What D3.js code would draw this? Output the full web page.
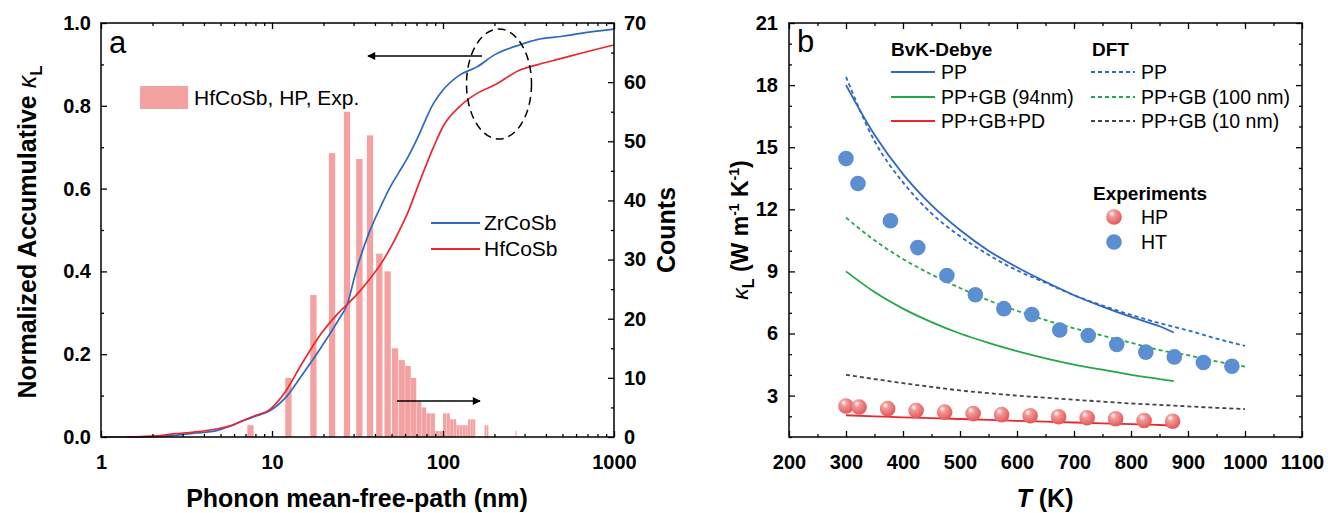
<!doctype html>
<html>
<head>
<meta charset="utf-8">
<title>Accumulative kappa and lattice thermal conductivity</title>
<script src="https://cdnjs.cloudflare.com/ajax/libs/d3/7.8.5/d3.min.js"></script>
<style>
  body { margin: 0; background: #fff; }
  svg { font-family: Arial, "Liberation Sans", sans-serif; }
  .tick line { stroke: #000; stroke-width: 1.3; }
  .domain { display: none; }
</style>
</head>
<body>
<div id="chart"></div>
<script>
// ---- panel a data ----
const mfp = [1, 1.4, 2, 2.7, 3.5, 4.8, 6, 6.8, 8, 9.6, 12, 15, 19.4, 24.5, 27.5, 31, 36.7, 43.6, 49, 55, 62, 70, 88, 100, 125, 158, 200, 280, 355, 500, 640, 1000];
const accZrCoSb = [0, 0, 0.001, 0.004, 0.009, 0.016, 0.03, 0.04, 0.05, 0.062, 0.095, 0.15, 0.217, 0.283, 0.32, 0.40, 0.49, 0.56, 0.603, 0.638, 0.674, 0.717, 0.806, 0.838, 0.874, 0.894, 0.923, 0.947, 0.96, 0.968, 0.975, 0.985];
const accHfCoSb = [null, 0, 0.002, 0.008, 0.012, 0.02, 0.03, 0.04, 0.052, 0.065, 0.11, 0.178, 0.25, 0.30, 0.32, 0.342, 0.378, 0.42, 0.455, 0.495, 0.54, 0.597, 0.70, 0.75, 0.798, 0.83, 0.85, 0.886, 0.899, 0.915, 0.927, 0.947];

const binCenters = [7.5, 12.5, 17.5, 22.5, 27.5, 32.5, 37.5, 42.5, 47.5, 52.5, 57.5, 62.5, 67.5, 72.5, 77.5, 82.5, 87.5, 92.5, 97.5, 102.5, 107.5, 112.5, 117.5, 122.5, 127.5, 132.5, 137.5, 142.5, 147.5, 152.5, 177.5, 182.5, 267.5];
const binCounts  = [2, 10, 24, 48, 55, 47, 51, 31, 28, 15, 13, 12, 10, 6, 5, 4, 4, 1, 1, 4, 4, 3, 3, 2, 2, 2, 2, 3, 3, 3, 2, 2, 1];

const xTicksA = [1, 10, 100, 1000];
const yTicksA = [0, 0.2, 0.4, 0.6, 0.8, 1.0];
const countTicks = [0, 10, 20, 30, 40, 50, 60, 70];

// ---- panel b data ----
const tBvK = [300, 350, 400, 450, 500, 550, 600, 650, 700, 750, 800, 850, 875];
const bvkPP     = [18.0, 15.6, 13.7, 12.2, 11.0, 10.0, 9.2, 8.5, 7.85, 7.3, 6.8, 6.35, 6.05];
const bvkGB94   = [9.0, 8.0, 7.2, 6.55, 6.0, 5.55, 5.15, 4.8, 4.5, 4.25, 4.0, 3.8, 3.7];
const bvkGBPD   = [2.05, 2.0, 1.95, 1.91, 1.87, 1.83, 1.78, 1.74, 1.7, 1.66, 1.62, 1.58, 1.55];

const tDFT = [300, 350, 400, 450, 500, 550, 600, 650, 700, 750, 800, 850, 900, 950, 1000];
const dftPP     = [18.4, 15.3, 13.3, 11.8, 10.7, 9.8, 9.05, 8.45, 7.85, 7.35, 6.9, 6.5, 6.15, 5.75, 5.4];
const dftGB100  = [11.6, 10.5, 9.6, 8.85, 8.2, 7.6, 7.1, 6.65, 6.25, 5.9, 5.55, 5.2, 4.95, 4.65, 4.4];
const dftGB10   = [4.0, 3.8, 3.6, 3.42, 3.25, 3.12, 3.0, 2.9, 2.8, 2.71, 2.62, 2.55, 2.48, 2.41, 2.35];

const hpT = [300, 323, 373, 423, 473, 523, 573, 623, 673, 723, 773, 823, 873];
const hpK = [2.5, 2.45, 2.37, 2.28, 2.2, 2.13, 2.08, 2.03, 1.98, 1.93, 1.88, 1.8, 1.76];
const htT = [300, 321, 378, 426, 477, 527, 577, 626, 675, 725, 775, 826, 876, 927, 977];
const htK = [14.45, 13.25, 11.45, 10.15, 8.8, 7.87, 7.2, 6.92, 6.17, 5.9, 5.47, 5.1, 4.87, 4.6, 4.42];

const xTicksB = [200, 300, 400, 500, 600, 700, 800, 900, 1000, 1100];
const yTicksB = [3, 6, 9, 12, 15, 18, 21];

const BLUE = '#2d68c2', RED = '#e8282e', GREEN = '#25a64a', GREY = '#444444';
const FONT = 'Arial, "Liberation Sans", sans-serif';

const svg = d3.select('#chart').append('svg')
  .attr('width', 1328).attr('height', 513);

const defs = svg.append('defs');
const grad = defs.append('radialGradient').attr('id', 'sphere')
  .attr('cx', '40%').attr('cy', '35%').attr('r', '65%').attr('fx', '35%').attr('fy', '28%');
grad.append('stop').attr('offset', '0%').attr('stop-color', '#ffffff');
grad.append('stop').attr('offset', '30%').attr('stop-color', '#f59a9a');
grad.append('stop').attr('offset', '100%').attr('stop-color', '#e2585a');

defs.append('marker').attr('id', 'arr')
  .attr('viewBox', '0 0 10 10').attr('refX', 9).attr('refY', 5)
  .attr('markerWidth', 13).attr('markerHeight', 8).attr('markerUnits', 'userSpaceOnUse')
  .attr('orient', 'auto')
  .append('path').attr('d', 'M0,0 L10,5 L0,10 z').attr('fill', '#000');

// draw axis helper, with Origin-like bold labels
function axis(gen, tx, ty) {
  const g = svg.append('g').attr('transform', `translate(${tx},${ty})`).call(gen);
  g.attr('font-family', FONT);
  g.selectAll('text').attr('font-size', 20).attr('font-weight', 'bold').attr('fill', '#000');
  return g;
}

// ================= Panel a =================
const xA = d3.scaleLog().domain([1, 1000]).range([101, 614]);
const yA = d3.scaleLinear().domain([0, 1]).range([437, 23]);
const cA = d3.scaleLinear().domain([0, 70]).range([437, 23]);

// histogram bars
const barW = (d) => Math.min(xA(d + 2.5) - xA(d - 2.5), 6.6);
svg.append('g').selectAll('rect').data(binCenters).join('rect')
  .attr('x', (d) => xA(d) - barW(d) / 2)
  .attr('width', (d) => barW(d) - 0.3)
  .attr('y', (d, i) => cA(binCounts[i]))
  .attr('height', (d, i) => cA(0) - cA(binCounts[i]))
  .attr('fill', '#f4a1a1');

const lineA = (vals) => d3.line()
  .defined((d, i) => vals[i] !== null)
  .x((d) => xA(d))
  .y((d, i) => yA(vals[i]))
  .curve(d3.curveMonotoneX)(mfp);

svg.append('path').attr('d', lineA(accZrCoSb)).attr('fill', 'none').attr('stroke', BLUE).attr('stroke-width', 1.7);
svg.append('path').attr('d', lineA(accHfCoSb)).attr('fill', 'none').attr('stroke', RED).attr('stroke-width', 1.7);

// frame
svg.append('rect').attr('x', 101).attr('y', 23).attr('width', 513).attr('height', 414)
  .attr('fill', 'none').attr('stroke', '#000').attr('stroke-width', 1.5);

const minorLog = [];
[1, 10, 100].forEach(b => { for (let k = 2; k <= 9; k++) minorLog.push(b * k); });

axis(d3.axisBottom(xA).tickValues(xTicksA).tickFormat(d3.format('d')).tickSize(-6).tickPadding(18), 0, 437);
axis(d3.axisBottom(xA).tickValues(minorLog).tickFormat('').tickSize(-3), 0, 437);
axis(d3.axisTop(xA).tickValues(xTicksA).tickFormat('').tickSize(-6), 0, 23);
axis(d3.axisTop(xA).tickValues(minorLog).tickFormat('').tickSize(-3), 0, 23);
axis(d3.axisLeft(yA).tickValues(yTicksA).tickFormat(d3.format('.1f')).tickSize(-6).tickPadding(10), 101, 0);
axis(d3.axisLeft(yA).tickValues(d3.range(0.1, 1, 0.2)).tickFormat('').tickSize(-3), 101, 0);
axis(d3.axisRight(cA).tickValues(countTicks).tickSize(-6).tickPadding(10), 614, 0);
axis(d3.axisRight(cA).tickValues(d3.range(5, 70, 10)).tickFormat('').tickSize(-3), 614, 0);

// titles
svg.append('text').attr('x', 357).attr('y', 507).attr('text-anchor', 'middle')
  .attr('font-size', 25).attr('font-weight', 'bold').text('Phonon mean-free-path (nm)');

const ttlA = svg.append('text').attr('transform', 'translate(36,232) rotate(-90)')
  .attr('text-anchor', 'middle').attr('font-size', 25).attr('font-weight', 'bold');
ttlA.append('tspan').text('Normalized Accumulative ');
ttlA.append('tspan').attr('font-weight', 'normal').attr('font-style', 'italic').text('κ');
ttlA.append('tspan').attr('font-size', 17).attr('dy', 6).text('L');

svg.append('text').attr('transform', 'translate(675,230) rotate(-90)')
  .attr('text-anchor', 'middle').attr('font-size', 25).attr('font-weight', 'bold').text('Counts');

svg.append('text').attr('x', 109).attr('y', 53).attr('font-size', 31).text('a');

// legend a
svg.append('rect').attr('x', 140).attr('y', 86).attr('width', 48).attr('height', 23).attr('fill', '#f4a1a1');
svg.append('text').attr('x', 194).attr('y', 105).attr('font-size', 21).text('HfCoSb, HP, Exp.');

[[BLUE, 'ZrCoSb', 223], [RED, 'HfCoSb', 249]].forEach(([c, name, yy]) => {
  svg.append('line').attr('x1', 431).attr('x2', 480).attr('y1', yy).attr('y2', yy)
    .attr('stroke', c).attr('stroke-width', 1.8);
  svg.append('text').attr('x', 484).attr('y', yy + 7).attr('font-size', 21).text(name);
});

// annotations
svg.append('ellipse').attr('cx', 499).attr('cy', 84).attr('rx', 32.5).attr('ry', 55)
  .attr('fill', 'none').attr('stroke', '#000').attr('stroke-width', 1.5).attr('stroke-dasharray', '8,5');
svg.append('line').attr('x1', 482).attr('y1', 56).attr('x2', 368).attr('y2', 56)
  .attr('stroke', '#000').attr('stroke-width', 1.5).attr('marker-end', 'url(#arr)');
svg.append('line').attr('x1', 397).attr('y1', 401).attr('x2', 480).attr('y2', 401)
  .attr('stroke', '#000').attr('stroke-width', 1.5).attr('marker-end', 'url(#arr)');

// ================= Panel b =================
const xB = d3.scaleLinear().domain([200, 1100]).range([789, 1302]);
const yB = d3.scaleLinear().domain([1, 21]).range([437, 23]);

function curveB(ts, vals, color, dash) {
  svg.append('path')
    .attr('d', d3.line().x((d) => xB(d)).y((d, i) => yB(vals[i])).curve(d3.curveMonotoneX)(ts))
    .attr('fill', 'none').attr('stroke', color).attr('stroke-width', 1.8)
    .attr('stroke-dasharray', dash ? '4,3' : null);
}
curveB(tDFT, dftGB10, GREY, true);
curveB(tBvK, bvkGB94, GREEN, false);
curveB(tDFT, dftGB100, GREEN, true);
curveB(tBvK, bvkPP, BLUE, false);
curveB(tDFT, dftPP, BLUE, true);
curveB(tBvK, bvkGBPD, RED, false);

svg.append('g').selectAll('circle').data(htT).join('circle')
  .attr('cx', (d) => xB(d)).attr('cy', (d, i) => yB(htK[i])).attr('r', 7.8)
  .attr('fill', '#5b8fd2');
svg.append('g').selectAll('circle').data(hpT).join('circle')
  .attr('cx', (d) => xB(d)).attr('cy', (d, i) => yB(hpK[i])).attr('r', 7.8)
  .attr('fill', 'url(#sphere)');

svg.append('rect').attr('x', 789).attr('y', 23).attr('width', 513).attr('height', 414)
  .attr('fill', 'none').attr('stroke', '#000').attr('stroke-width', 1.5);

const minorX = d3.range(250, 1100, 100);
const minorY = d3.range(1, 22).filter(v => v % 3 !== 0);
axis(d3.axisBottom(xB).tickValues(xTicksB).tickFormat(d3.format('d')).tickSize(-6).tickPadding(18), 0, 437);
axis(d3.axisBottom(xB).tickValues(minorX).tickFormat('').tickSize(-3), 0, 437);
axis(d3.axisTop(xB).tickValues(xTicksB).tickFormat('').tickSize(-6), 0, 23);
axis(d3.axisTop(xB).tickValues(minorX).tickFormat('').tickSize(-3), 0, 23);
axis(d3.axisLeft(yB).tickValues(yTicksB).tickFormat(d3.format('d')).tickSize(-6).tickPadding(11), 789, 0);
axis(d3.axisLeft(yB).tickValues(minorY).tickFormat('').tickSize(-3), 789, 0);
axis(d3.axisRight(yB).tickValues(yTicksB).tickFormat('').tickSize(-6), 1302, 0);
axis(d3.axisRight(yB).tickValues(minorY).tickFormat('').tickSize(-3), 1302, 0);

const ttlXB = svg.append('text').attr('x', 1045).attr('y', 507).attr('text-anchor', 'middle')
  .attr('font-size', 25).attr('font-weight', 'bold');
ttlXB.append('tspan').attr('font-style', 'italic').text('T');
ttlXB.append('tspan').text(' (K)');

const ttlYB = svg.append('text').attr('transform', 'translate(748,230) rotate(-90)')
  .attr('text-anchor', 'middle').attr('font-size', 23).attr('font-weight', 'bold');
ttlYB.append('tspan').attr('font-weight', 'normal').attr('font-style', 'italic').text('κ');
ttlYB.append('tspan').attr('font-size', 16).attr('dy', 6).text('L');
ttlYB.append('tspan').attr('dy', -6).text(' (W m');
ttlYB.append('tspan').attr('font-size', 14).attr('dy', -9).text('-1');
ttlYB.append('tspan').attr('dy', 9).text(' K');
ttlYB.append('tspan').attr('font-size', 14).attr('dy', -9).text('-1');
ttlYB.append('tspan').attr('dy', 9).text(')');

svg.append('text').attr('x', 797).attr('y', 52).attr('font-size', 31).text('b');

// legend b
svg.append('text').attr('x', 891).attr('y', 56).attr('font-size', 19).attr('font-weight', 'bold').text('BvK-Debye');
svg.append('text').attr('x', 1092).attr('y', 56).attr('font-size', 19).attr('font-weight', 'bold').text('DFT');
const legB = [
  [891, 72, BLUE, false, 'PP'], [891, 97, GREEN, false, 'PP+GB (94nm)'], [891, 121, RED, false, 'PP+GB+PD'],
  [1091, 72, BLUE, true, 'PP'], [1091, 97, GREEN, true, 'PP+GB (100 nm)'], [1091, 121, GREY, true, 'PP+GB (10 nm)']
];
legB.forEach(([lx, ly, c, dash, name]) => {
  svg.append('line').attr('x1', lx).attr('x2', lx + 44).attr('y1', ly).attr('y2', ly)
    .attr('stroke', c).attr('stroke-width', 1.8).attr('stroke-dasharray', dash ? '4,3' : null);
  svg.append('text').attr('x', lx + 50).attr('y', ly + 7).attr('font-size', 19.5).text(name);
});
svg.append('text').attr('x', 1093).attr('y', 200).attr('font-size', 19).attr('font-weight', 'bold').text('Experiments');
svg.append('circle').attr('cx', 1114).attr('cy', 217).attr('r', 7.8).attr('fill', 'url(#sphere)');
svg.append('circle').attr('cx', 1114).attr('cy', 242).attr('r', 7.8).attr('fill', '#5b8fd2');
svg.append('text').attr('x', 1141).attr('y', 224).attr('font-size', 19.5).text('HP');
svg.append('text').attr('x', 1141).attr('y', 249).attr('font-size', 19.5).text('HT');
</script>
</body>
</html>
